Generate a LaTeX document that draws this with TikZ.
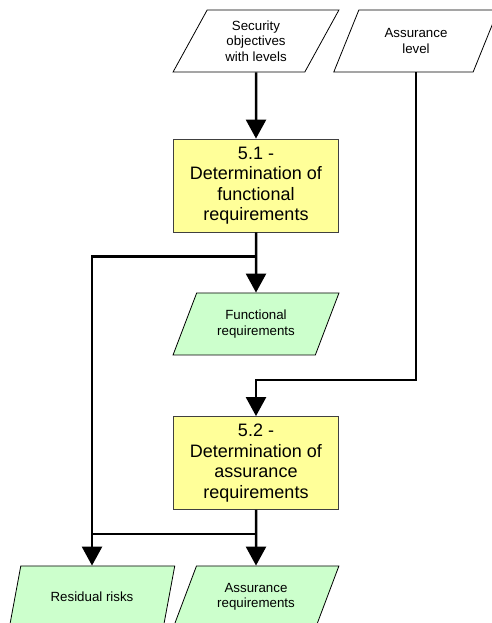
\documentclass[tikz,border=0pt]{standalone}
\usepackage{fontspec}
\setmainfont{Liberation Sans}
\usepackage{tikz}
\usetikzlibrary{arrows.meta, positioning, shapes.geometric}

\definecolor{procyellow}{HTML}{FFFF99}
\definecolor{datagreen}{HTML}{CCFFCC}

\tikzset{
  data/.style={trapezium, trapezium left angle=63, trapezium right angle=117,
    trapezium stretches=true, minimum width=166pt, minimum height=62pt,
    draw=black, line width=0.8pt, align=center, inner sep=2pt,
    font=\fontsize{13.3}{15.5}\selectfont},
  process/.style={rectangle, draw=black!75, line width=0.8pt, fill=procyellow,
    minimum width=165pt, minimum height=93pt, align=center,
    font=\fontsize{18}{20.5}\selectfont},
  flow/.style={line width=2.5pt},
  arr/.style={flow, -{Triangle[width=20pt,length=19pt]}}
}

\begin{document}
\begin{tikzpicture}[node distance=140pt]
            \useasboundingbox (0,0) rectangle (491pt,623pt);

            \node[data] (sec) at (256pt,582pt) {Security\\objectives\\with levels};
            \node[data, right of=sec, xshift=20pt] (lvl) {Assurance\\level};
            \node[process, below of=sec, yshift=-4.5pt] (d1) {5.1 -\\Determination of\\functional\\requirements};
            \node[data, fill=datagreen, below of=d1, yshift=1.5pt] (fr) {Functional\\requirements};
            \node[process, below of=fr, yshift=1pt] (d2) {5.2 -\\Determination of\\assurance\\requirements};
            \node[data, fill=datagreen, below of=d2, yshift=6pt] (ar) {Assurance\\requirements};
            \node[data, fill=datagreen, left of=ar, xshift=-24pt] (rr) {Residual risks};

            \coordinate (j1) at ([yshift=-24pt]d1.south);
            \coordinate (j2) at ([yshift=36pt]d2.north);
            \coordinate (j3) at ([yshift=-24pt]d2.south);

            \draw[arr] (sec.south) -- (d1.north);
            \draw[arr] (d1.south) -- (fr.north);
            \draw[arr] (j1) -| (rr.north);
            \draw[arr] (lvl.south) |- (j2) -- (d2.north);
            \draw[arr] (d2.south) -- (ar.north);
            \draw[flow] (j3) -- (j3 -| rr.north);
        \end{tikzpicture}
\end{document}
